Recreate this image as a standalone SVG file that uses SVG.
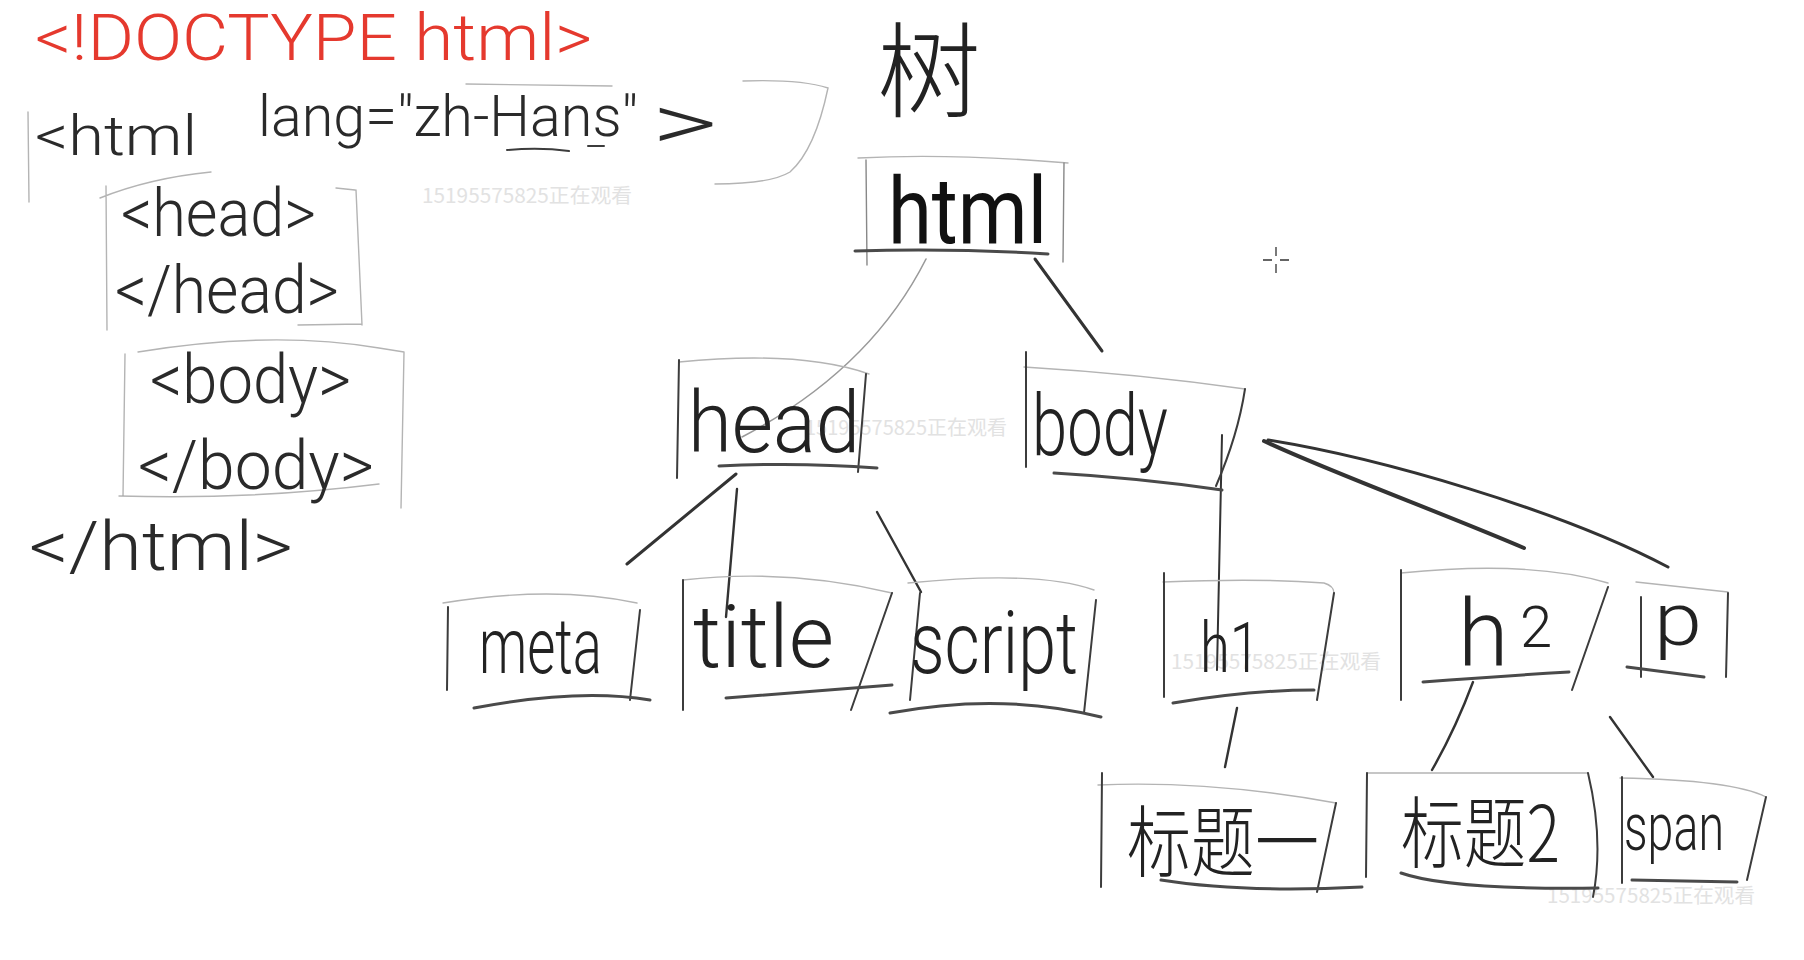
<svg xmlns="http://www.w3.org/2000/svg" width="1804" height="960" viewBox="0 0 1804 960">
<style>
.t{font-family:"Roboto","Liberation Sans","DejaVu Sans",sans-serif;fill:#222;font-weight:300;}
.c{font-family:"Noto Sans CJK SC","Noto Sans CJK TC",sans-serif;fill:#222;font-weight:300;}
.code{font-family:"Roboto","Liberation Sans","DejaVu Sans",sans-serif;fill:#2a2a2a;font-weight:300;}
.lt{fill:none;stroke:#b4b4b4;stroke-width:1.4;stroke-linecap:round;}
.sd{fill:none;stroke:#3c3c3c;stroke-width:2;stroke-linecap:round;}
.dk{fill:none;stroke:#4a4a4a;stroke-width:3;stroke-linecap:round;}
.ln{fill:none;stroke:#333;stroke-width:3;stroke-linecap:round;}
.wm{font-family:"Noto Sans CJK SC","DejaVu Sans",sans-serif;fill:#e2e2e2;font-size:20px;}
</style>
<rect width="1804" height="960" fill="#ffffff"/>

<g id="code">
  <text class="code" x="35" y="60" font-size="64" style="fill:#e5392e" textLength="557" lengthAdjust="spacingAndGlyphs">&lt;!DOCTYPE html&gt;</text>
  <text class="code" y="155" font-size="56"><tspan x="35" textLength="162" lengthAdjust="spacingAndGlyphs">&lt;html</tspan> <tspan x="258" y="136" font-size="58" textLength="380" lengthAdjust="spacingAndGlyphs">lang="zh-Hans"</tspan> <tspan x="652" y="150" font-size="80" textLength="66" lengthAdjust="spacingAndGlyphs">&gt;</tspan></text>
  <path class="lt" d="M28,112 L29,202"/>
  <path class="lt" d="M743,81 Q800,79 828,88 Q815,150 790,172 Q770,184 715,184"/>
  <path class="lt" d="M466,84 L612,86"/>
  <path class="sd" d="M507,150 Q540,147 569,151 M588,146 L604,146"/>

  <path class="lt" d="M100,198 Q150,178 211,172 M336,188 L355,190 M106,186 L107,330 M356,190 L362,325 M298,325 L362,324"/>
  <text class="code" x="121" y="236" font-size="66" textLength="195" lengthAdjust="spacingAndGlyphs">&lt;head&gt;</text>
  <text class="code" x="115" y="313" font-size="66" textLength="224" lengthAdjust="spacingAndGlyphs">&lt;/head&gt;</text>

  <path class="lt" d="M138,352 Q271,330 379,348 L404,352 M125,354 L123,496 M404,352 L401,508 M119,496 Q250,500 379,484"/>
  <text class="code" x="150" y="403" font-size="68" textLength="201" lengthAdjust="spacingAndGlyphs">&lt;body&gt;</text>
  <text class="code" x="138" y="489" font-size="68" textLength="236" lengthAdjust="spacingAndGlyphs">&lt;/body&gt;</text>
  <text class="code" x="29" y="570" font-size="68" textLength="264" lengthAdjust="spacingAndGlyphs">&lt;/html&gt;</text>
</g>

<g id="watermarks">
  <text class="wm" x="422" y="203" textLength="210" lengthAdjust="spacingAndGlyphs">15195575825正在观看</text>
  <text class="wm" x="805" y="435" textLength="202" lengthAdjust="spacingAndGlyphs">15195575825正在观看</text>
  <text class="wm" x="1171" y="669" textLength="210" lengthAdjust="spacingAndGlyphs">15195575825正在观看</text>
  <text class="wm" x="1547" y="903" textLength="208" lengthAdjust="spacingAndGlyphs">15195575825正在观看</text>
</g>

<g id="tree-title">
  <text class="c" x="929" y="110" font-size="104" text-anchor="middle">树</text>
</g>

<g id="connectors">
  <path class="lt" style="stroke:#9a9a9a;stroke-width:1.6" d="M926,259 Q870,370 742,437"/>
  <path class="ln" d="M1035,259 L1102,351"/>
  <path class="ln" d="M736,474 L627,564"/>
  <path class="ln" style="stroke-width:2.4" d="M737,489 L726,617"/>
  <path class="ln" style="stroke-width:2.4" d="M877,512 L921,592"/>
  <path class="ln" style="stroke-width:2" d="M1222,435 L1217,670"/>
  <path class="ln" style="stroke-width:4" d="M1264,441 C1330,472 1440,512 1524,548"/>
  <path class="ln" d="M1268,440 C1380,458 1560,510 1668,567"/>
  <path class="ln" style="stroke-width:2.4" d="M1237,708 L1225,767"/>
  <path class="ln" style="stroke-width:2.4" d="M1473,682 Q1455,730 1432,770"/>
  <path class="ln" style="stroke-width:2.4" d="M1610,717 L1653,777"/>
</g>

<g id="node-html">
  <path class="lt" d="M858,158 Q950,153 1068,163"/>
  <path class="lt" style="stroke:#888" d="M866,160 L867,265 M1064,163 L1063,262"/>
  <path class="dk" d="M855,251 Q950,248 1048,254"/>
  <text class="t" x="888" y="243" font-size="92" textLength="159" lengthAdjust="spacingAndGlyphs" style="fill:#111;font-weight:400">html</text>
</g>

<g id="node-head">
  <path class="lt" d="M679,362 Q800,350 869,374"/>
  <path class="sd" d="M679,360 L677,478 M866,374 L858,472"/>
  <path class="dk" d="M719,466 Q800,462 877,468"/>
  <text class="t" x="688" y="452" font-size="86" textLength="172" lengthAdjust="spacingAndGlyphs">head</text>
</g>

<g id="node-body">
  <path class="lt" d="M1024,367 Q1140,374 1245,389"/>
  <path class="sd" d="M1026,352 L1026,467 M1245,389 Q1238,435 1216,486"/>
  <path class="dk" d="M1054,473 Q1140,478 1222,490"/>
  <text class="t" x="1032" y="455" font-size="86" textLength="136" lengthAdjust="spacingAndGlyphs">body</text>
</g>

<g id="node-meta">
  <path class="lt" d="M443,603 Q553,585 637,603"/>
  <path class="sd" d="M448,607 L447,690 M640,610 L630,700"/>
  <path class="dk" d="M474,708 Q579,688 650,700"/>
  <text class="t" x="479" y="673" font-size="78" textLength="123" lengthAdjust="spacingAndGlyphs">meta</text>
</g>

<g id="node-title">
  <path class="lt" d="M683,580 Q788,568 892,593"/>
  <path class="sd" d="M683,580 L683,710 M892,593 L851,710"/>
  <path class="dk" d="M726,698 L892,685"/>
  <text class="t" x="693" y="667" font-size="88" textLength="141" lengthAdjust="spacingAndGlyphs">title</text>
</g>

<g id="node-script">
  <path class="lt" d="M908,583 Q1038,570 1094,590"/>
  <path class="sd" d="M920,593 L910,700 M1096,600 L1084,713"/>
  <path class="dk" d="M890,713 Q1002,692 1101,717"/>
  <text class="t" x="910" y="673" font-size="88" textLength="168" lengthAdjust="spacingAndGlyphs">script</text>
</g>

<g id="node-h1">
  <path class="lt" d="M1163,582 Q1260,578 1324,583 Q1334,586 1334,593"/>
  <path class="sd" d="M1164,573 L1164,697 M1334,593 L1317,700"/>
  <path class="dk" d="M1173,703 Q1252,690 1314,690"/>
  <text class="t" x="1200" y="672" font-size="70" textLength="60" lengthAdjust="spacingAndGlyphs">h1</text>
</g>

<g id="node-h2">
  <path class="lt" d="M1401,573 Q1531,560 1608,583"/>
  <path class="sd" d="M1401,570 L1401,700 M1608,587 L1572,690"/>
  <path class="dk" d="M1423,682 Q1500,676 1569,672"/>
  <text class="t" x="1458" y="665" font-size="92">h<tspan x="1520" y="647" font-size="58">2</tspan></text>
</g>

<g id="node-p">
  <path class="lt" d="M1636,582 L1728,592"/>
  <path class="sd" d="M1641,597 L1641,677 M1728,593 L1726,677"/>
  <path class="dk" d="M1627,667 L1704,677"/>
  <text class="t" x="1654" y="645" font-size="74" textLength="48" lengthAdjust="spacingAndGlyphs">p</text>
</g>

<g id="node-h1-text">
  <path class="lt" d="M1098,785 Q1209,780 1336,803"/>
  <path class="sd" d="M1102,773 L1101,887 M1336,803 L1317,892"/>
  <path class="dk" d="M1161,880 Q1242,893 1362,887"/>
  <text class="c" x="1127" y="871" font-size="78" textLength="192" lengthAdjust="spacingAndGlyphs">标题一</text>
</g>

<g id="node-h2-text">
  <path class="lt" d="M1367,773 L1588,773"/>
  <path class="sd" d="M1367,773 L1366,877 M1588,773 Q1604,840 1593,897"/>
  <path class="dk" d="M1401,873 Q1449,890 1598,888"/>
  <text class="c" x="1401" y="862" font-size="78" textLength="159" lengthAdjust="spacingAndGlyphs">标题2</text>
</g>

<g id="node-span">
  <path class="lt" d="M1620,778 Q1733,780 1766,797"/>
  <path class="sd" d="M1622,777 L1622,883 M1766,797 L1747,880"/>
  <path class="dk" d="M1632,880 L1737,882"/>
  <text class="t" x="1624" y="850" font-size="66" textLength="100" lengthAdjust="spacingAndGlyphs">span</text>
</g>

<g id="cursor">
  <path fill="none" stroke="#333" stroke-width="1.3" d="M1276,247 V256 M1276,264 V273 M1263,260 H1272 M1280,260 H1289"/>
</g>
</svg>
